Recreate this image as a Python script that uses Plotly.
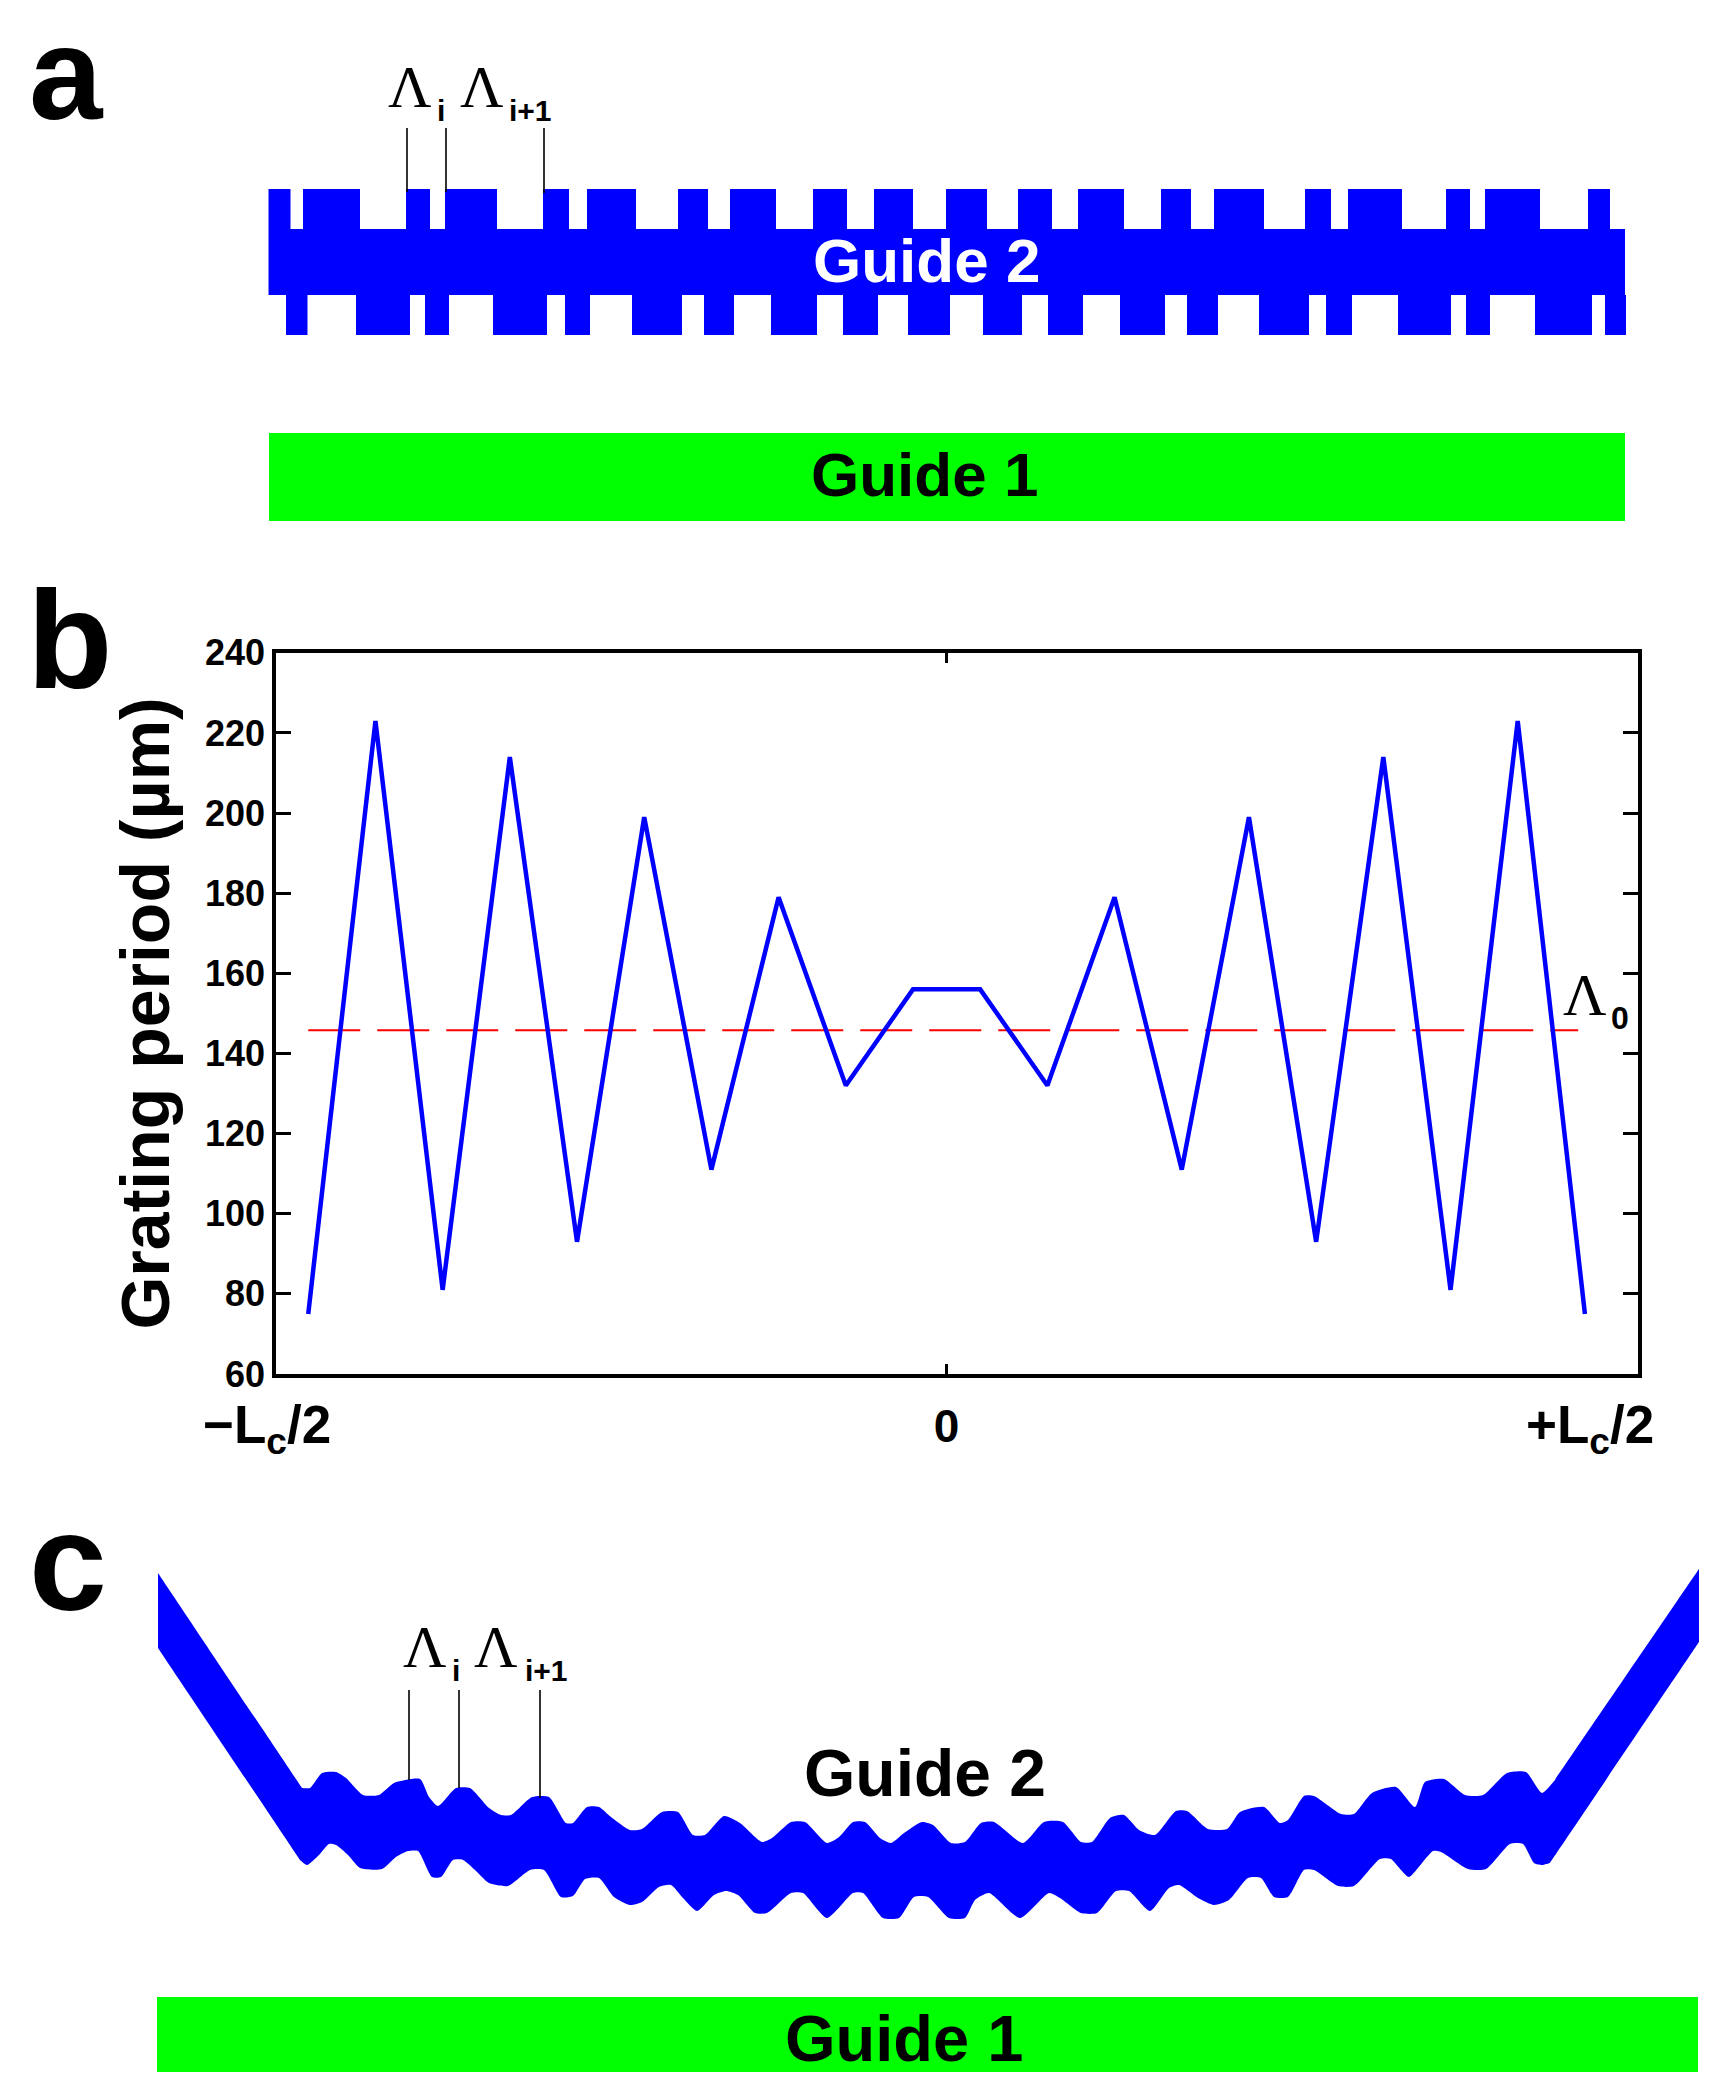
"""
Three stacked panels of a grating-assisted coupler:
a) periodic teeth on guide 2, b) grating period along the coupler, c) curved guide 2.
Panels a and c are schematics, so their values are in picture units read off the figure.
"""

import plotly.graph_objects as go

PAGE_W, PAGE_H = 1718, 2086

# --- panel a: tooth edges along guide 2 (start, end of each tooth) ---
a_top_starts = [268.5, 303, 406, 445, 543, 587, 678, 730, 813, 874, 946, 1018, 1078, 1161, 1214, 1305, 1348, 1446, 1485, 1588]
a_top_ends = [290.5, 360, 430, 497, 569, 636, 708, 776, 847, 913, 987, 1052, 1124, 1191, 1264, 1331, 1402, 1470, 1540, 1610]
a_bottom_starts = [286, 356, 425, 493, 565, 632, 704, 771, 843, 908, 983, 1048, 1120, 1187, 1259, 1326, 1398, 1466, 1535, 1605]
a_bottom_ends = [307.5, 410, 449, 547, 590, 682, 734, 817, 878, 950, 1022, 1083, 1165, 1218, 1309, 1352, 1451, 1490, 1592, 1626]
a_body_left, a_body_right = 268.5, 1625
a_tooth_top, a_body_top, a_body_bottom, a_tooth_bottom = 189, 229, 295, 335
a_guide1_x = [269, 1625, 1625, 269, 269]
a_guide1_y = [433, 433, 521, 521, 433]
a_leader_x = [407, 446, 544]
a_leader_top = [128, 128, 128]
a_leader_bottom = [192, 192, 193]

# --- panel b: grating period per section ---
section = [-9.5, -8.5, -7.5, -6.5, -5.5, -4.5, -3.5, -2.5, -1.5, -0.5,
           0.5, 1.5, 2.5, 3.5, 4.5, 5.5, 6.5, 7.5, 8.5, 9.5]
period_um = [75, 223, 81, 214, 93, 199, 111, 179, 132, 156,
             156, 132, 179, 111, 199, 93, 214, 81, 223, 75]
mean_x = [-9.5, 9.4]
mean_period_um = [145.8, 145.8]
y_ticks = [60, 80, 100, 120, 140, 160, 180, 200, 220, 240]

# --- panel c: outline of the curved guide 2 (corners repeated to keep them sharp) ---
c_upper_x = [158, 158, 302, 302, 310, 322, 336, 346, 363, 379, 394,
             420, 429, 438, 456, 470, 489, 501, 511, 532, 549, 566, 573, 587, 599, 611, 630, 642, 662, 678, 693,
             705, 724, 740, 762, 772, 791, 805, 827, 839, 853, 865, 880, 891, 904, 922, 933, 951, 965, 981, 994,
             1023, 1044, 1063, 1081, 1092, 1110, 1124, 1139, 1155, 1176, 1187, 1208, 1227, 1240, 1264, 1280, 1288, 1304, 1314, 1341,
             1354, 1372, 1396, 1415, 1425, 1444, 1465, 1483, 1507, 1526, 1542, 1555, 1555, 1699, 1699]
c_upper_y = [1573, 1573, 1788, 1788, 1788, 1773, 1772, 1778, 1795, 1795, 1783,
             1779, 1797, 1806, 1788, 1788, 1808, 1815, 1815, 1797, 1797, 1823, 1823, 1807, 1807, 1817, 1830, 1829, 1812, 1812, 1835,
             1835, 1816, 1823, 1842, 1838, 1822, 1822, 1843, 1837, 1822, 1822, 1838, 1843, 1833, 1822, 1825, 1843, 1842, 1823, 1822,
             1843, 1822, 1822, 1842, 1842, 1818, 1815, 1830, 1835, 1811, 1811, 1829, 1829, 1812, 1807, 1823, 1820, 1796, 1796, 1814,
             1814, 1793, 1787, 1807, 1782, 1779, 1795, 1795, 1773, 1772, 1793, 1780, 1780, 1569, 1569]
c_lower_x = [1699, 1699, 1550, 1550, 1542, 1534, 1523, 1510, 1486, 1468, 1441, 1433, 1409, 1401, 1391, 1380,
             1354, 1338, 1314, 1304, 1288, 1274, 1261, 1248, 1229, 1214, 1198, 1179, 1169, 1150, 1129, 1116, 1097, 1081, 1060, 1049,
             1020, 989, 975, 965, 949, 928, 914, 899, 883, 863, 853, 827, 803, 791, 767, 755, 738, 726, 714, 697,
             683, 671, 659, 642, 630, 614, 599, 585, 573, 561, 544, 530, 508, 489, 475, 463, 453, 441, 432, 418,
             408, 396, 382, 360, 348, 336, 329, 319, 307, 300, 300, 158, 158]
c_lower_y = [1642, 1642, 1863, 1863, 1865, 1863, 1844, 1844, 1869, 1869, 1852, 1851, 1877, 1870, 1859, 1859,
             1886, 1886, 1870, 1870, 1897, 1897, 1878, 1878, 1900, 1905, 1898, 1885, 1888, 1911, 1891, 1891, 1913, 1913, 1898, 1893,
             1918, 1893, 1900, 1918, 1918, 1897, 1897, 1918, 1918, 1893, 1893, 1918, 1893, 1893, 1913, 1913, 1895, 1891, 1895, 1911,
             1898, 1885, 1887, 1902, 1905, 1897, 1878, 1879, 1896, 1897, 1870, 1870, 1886, 1883, 1870, 1860, 1860, 1877, 1877, 1851,
             1851, 1857, 1869, 1868, 1855, 1845, 1844, 1855, 1865, 1860, 1860, 1648, 1648]
c_guide1_x = [157, 1698, 1698, 157, 157]
c_guide1_y = [1997, 1997, 2072, 2072, 1997]
c_leader_x = [409, 459, 540]
c_leader_top = [1690, 1690, 1690]
c_leader_bottom = [1780, 1788, 1798]

BLUE = "#0000ff"
GREEN = "#00ff00"
RED = "#ff0000"
SANS = "Liberation Sans"
SERIF = "Liberation Serif"


def comb_outline(top_starts, top_ends, bottom_starts, bottom_ends):
    # walk along the teeth on top, then back along the teeth underneath
    xs, ys = [a_body_left], [a_body_bottom]
    for start, end in zip(top_starts, top_ends):
        xs += [start, start, end, end]
        ys += [a_body_top, a_tooth_top, a_tooth_top, a_body_top]
    xs += [a_body_right, a_body_right]
    ys += [a_body_top, a_body_bottom]
    for start, end in zip(reversed(bottom_starts), reversed(bottom_ends)):
        xs += [end, end, start, start]
        ys += [a_body_bottom, a_tooth_bottom, a_tooth_bottom, a_body_bottom]
    xs.append(a_body_left)
    ys.append(a_body_bottom)
    return xs, ys


def leaders(xs, tops, bottoms):
    line_x, line_y = [], []
    for x, top, bottom in zip(xs, tops, bottoms):
        line_x += [x, x, None]
        line_y += [top, bottom, None]
    return line_x, line_y


def filled(xs, ys, color, axes, shape="linear"):
    return go.Scatter(x=xs, y=ys, mode="lines", fill="toself", fillcolor=color,
                      line=dict(width=0, color=color, shape=shape, smoothing=0.6), hoverinfo="skip",
                      xaxis=axes[0], yaxis=axes[1])


def thin_lines(xs, ys, axes):
    return go.Scatter(x=xs, y=ys, mode="lines", line=dict(width=1.6, color="black"),
                      hoverinfo="skip", xaxis=axes[0], yaxis=axes[1])


A = ("x2", "y2")
C = ("x3", "y3")

fig = go.Figure()

# --- panel a ---
comb_x, comb_y = comb_outline(a_top_starts, a_top_ends, a_bottom_starts, a_bottom_ends)
fig.add_trace(filled(comb_x, comb_y, BLUE, A))
fig.add_trace(filled(a_guide1_x, a_guide1_y, GREEN, A))
fig.add_trace(thin_lines(*leaders(a_leader_x, a_leader_top, a_leader_bottom), A))

# --- panel b ---
fig.add_trace(go.Scatter(x=mean_x, y=mean_period_um, mode="lines",
                         line=dict(width=2, color=RED, dash="52px,17px"), name="mean period"))
fig.add_trace(go.Scatter(x=section, y=period_um, mode="lines",
                         line=dict(width=4.5, color=BLUE), name="period"))

# --- panel c ---
fig.add_trace(filled(c_upper_x + c_lower_x, c_upper_y + c_lower_y, BLUE, C, shape="spline"))
fig.add_trace(filled(c_guide1_x, c_guide1_y, GREEN, C))
fig.add_trace(thin_lines(*leaders(c_leader_x, c_leader_top, c_leader_bottom), C))


def label(text, x, y, size, color="black", family=SANS, bold=True, yanchor="middle"):
    body = f"<b>{text}</b>" if bold else text
    fig.add_annotation(text=body, x=x / PAGE_W, y=1 - y / PAGE_H,
                       xref="paper", yref="paper", xanchor="center", yanchor=yanchor, showarrow=False,
                       font=dict(size=size, color=color, family=family))


def lambda_label(x, baseline, sub, sub_x, sub_size=30):
    # big serif lambda with a small sans subscript next to it
    label("Λ", x, baseline + 12, 60, family=SERIF, bold=False, yanchor="bottom")
    label(sub, sub_x, baseline, sub_size)


label("a", 66, 74, 132)
label("b", 70, 640, 140)
label("c", 68, 1561, 140)

label("Guide 2", 926, 260, 62, color="white")
label("Guide 1", 924, 474, 62)
label("Guide 2", 925, 1773, 66)
label("Guide 1", 904, 2038, 65)

lambda_label(410, 110, "i", 441)
lambda_label(482, 110, "i+1", 530)
lambda_label(425, 1670, "i", 456)
lambda_label(496, 1670, "i+1", 546)
lambda_label(1585, 1018, "0", 1620, sub_size=32)

label("−L<sub>c</sub>/2", 267, 1428, 53)
label("+L<sub>c</sub>/2", 1590, 1428, 53)


def page_axis(low, high, size, reverse=False):
    # a schematic axis: picture units mapped 1:1, nothing shown
    domain = [low / size, high / size]
    if reverse:
        domain = [1 - high / size, 1 - low / size]
    return dict(domain=domain, range=[high, low] if reverse else [low, high],
                visible=False, fixedrange=True, automargin=False)


fig.update_layout(
    width=PAGE_W, height=PAGE_H,
    margin=dict(l=0, r=0, t=0, b=0),
    autosize=False,
    paper_bgcolor="white", plot_bgcolor="white",
    showlegend=False,
    hovermode=False,
    xaxis=dict(
        domain=[276 / PAGE_W, 1638 / PAGE_W], range=[-9.98, 10.29],
        tickvals=[0], ticktext=["0"], ticks="inside", ticklen=10, tickwidth=3, tickcolor="black",
        showline=True, linewidth=3.5, linecolor="black", mirror="allticks",
        showgrid=False, zeroline=False, automargin=False, ticklabelstandoff=9,
        tickfont=dict(size=46, family=SANS, color="black", weight="bold"),
    ),
    yaxis=dict(
        domain=[1 - 1374 / PAGE_H, 1 - 652.8 / PAGE_H], range=[60, 240],
        tickvals=y_ticks, ticks="inside", ticklen=15, tickwidth=3, tickcolor="black",
        showline=True, linewidth=3.5, linecolor="black", mirror="allticks",
        showgrid=False, zeroline=False, automargin=False,
        tickfont=dict(size=36, family=SANS, color="black", weight="bold"),
        title=dict(text="Grating period (µm)", standoff=14,
                   font=dict(size=68, family=SANS, color="black", weight="bold")),
    ),
    xaxis2=dict(page_axis(240, 1660, PAGE_W), anchor="y2"),
    yaxis2=dict(page_axis(120, 540, PAGE_H, reverse=True), anchor="x2"),
    xaxis3=dict(page_axis(140, 1710, PAGE_W), anchor="y3"),
    yaxis3=dict(page_axis(1550, 2085, PAGE_H, reverse=True), anchor="x3"),
)

fig.write_html("out.html", config=dict(displayModeBar=False),
               post_script="document.body.style.margin='0';")
